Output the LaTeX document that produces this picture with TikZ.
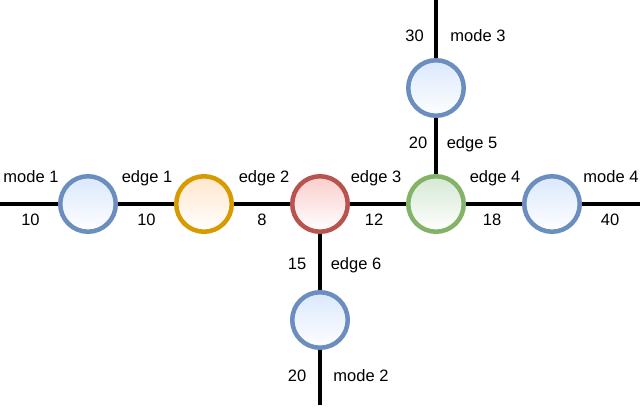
\documentclass[tikz,border=0pt]{standalone}
\usepackage{fontspec}
\setmainfont{Liberation Sans}
\definecolor{bstroke}{HTML}{6C8EBF}
\definecolor{bfill}{HTML}{DAE8FC}
\definecolor{ostroke}{HTML}{D79B00}
\definecolor{ofill}{HTML}{FFE6CC}
\definecolor{rstroke}{HTML}{B85450}
\definecolor{rfill}{HTML}{F8CECC}
\definecolor{gstroke}{HTML}{82B366}
\definecolor{gfill}{HTML}{D5E8D4}
\begin{document}
\begin{tikzpicture}[x=1pt,y=1pt,
  vert/.style={circle,minimum size=55.5pt,inner sep=0pt,line width=4.5pt},
  bluev/.style={vert,draw=bstroke,top color=bfill,bottom color=white},
  orangev/.style={vert,draw=ostroke,top color=ofill,bottom color=white},
  redv/.style={vert,draw=rstroke,top color=rfill,bottom color=white},
  greenv/.style={vert,draw=gstroke,top color=gfill,bottom color=white},
  wire/.style={line width=4.8pt,black},
  lbl/.style={anchor=base,inner sep=0pt,font=\fontsize{16.5}{19}\selectfont}]
\useasboundingbox (0,0) rectangle (640,409);
% nodes
\node[bluev] (A) at (88,205) {};
\node[orangev] (B) at (204,205) {};
\node[redv] (C) at (320,205) {};
\node[greenv] (D) at (436,205) {};
\node[bluev] (E) at (552,205) {};
\node[bluev] (F) at (436,321) {};
\node[bluev] (G) at (320,89) {};
% free ends
\coordinate (L) at (0,205);
\coordinate (R) at (640,205);
\coordinate (T) at (436,409);
\coordinate (Bt) at (320,4);
% wires
\draw[wire] (L) -- (A);
\draw[wire] (A) -- (B);
\draw[wire] (B) -- (C);
\draw[wire] (C) -- (D);
\draw[wire] (D) -- (E);
\draw[wire] (E) -- (R);
\draw[wire] (D) -- (F);
\draw[wire] (F) -- (T);
\draw[wire] (C) -- (G);
\draw[wire] (G) -- (Bt);
% labels
\node[lbl] (m1) at (31,226) {mode 1};
\node[lbl] (n1) at (30.5,183) {10};
\node[lbl] (e1) at (147,226) {edge 1};
\node[lbl] (n2) at (146.5,183) {10};
\node[lbl] (e2) at (264,226) {edge 2};
\node[lbl] (n3) at (262,183) {8};
\node[lbl] (e3) at (376,226) {edge 3};
\node[lbl] (n4) at (374,183) {12};
\node[lbl] (e4) at (495,226) {edge 4};
\node[lbl] (n5) at (492,183) {18};
\node[lbl] (m4) at (611,226) {mode 4};
\node[lbl] (n6) at (610,183) {40};
\node[lbl] (n7) at (414.5,367) {30};
\node[lbl] (m3) at (478,367) {mode 3};
\node[lbl] (n8) at (418,260) {20};
\node[lbl] (e5) at (472,260) {edge 5};
\node[lbl] (n9) at (297,139) {15};
\node[lbl] (e6) at (356,139) {edge 6};
\node[lbl] (n10) at (297,27) {20};
\node[lbl] (m2) at (361,27) {mode 2};
\end{tikzpicture}
\end{document}
